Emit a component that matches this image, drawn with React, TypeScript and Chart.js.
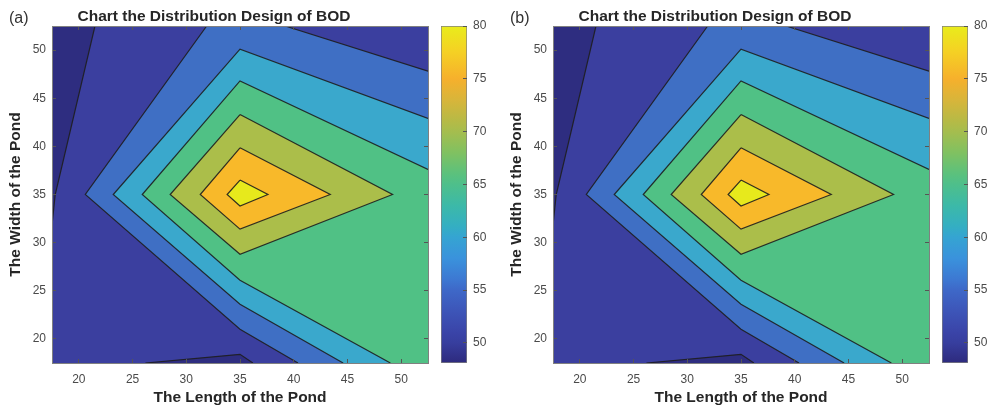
import React, { useEffect, useRef } from 'react';
import { Chart, registerables } from 'chart.js';

Chart.register(...registerables);

const FONT = '"Liberation Sans", Arial, Helvetica, sans-serif';

// ---- text ----
const TITLE = 'Chart the Distribution Design of BOD';
const X_LABEL = 'The Length of the Pond';
const Y_LABEL = 'The Width of the Pond';
const PANEL_LABELS = ['(a)', '(b)'];

// ---- axes ----
const X_LIMITS = [17.5, 52.5];
const Y_LIMITS = [17.5, 52.5];
const X_TICKS = [20, 25, 30, 35, 40, 45, 50];
const Y_TICKS = [20, 25, 30, 35, 40, 45, 50];
const CB_LIMITS = [48.1, 80];
const CB_TICKS = [50, 55, 60, 65, 70, 75, 80];

// ---- contour lines (x = length, y = width) ----
// lowest level, top-left corner
const lineA_x = [21.5, 17.8, 17.5];
const lineA_y = [52.5, 35, 31.8];
// lowest level, small pocket at the bottom
const lineA2_x = [26.2, 35, 36.2];
const lineA2_y = [17.5, 18.4, 17.5];
// second level, two branches
const lineB1_x = [31.9, 20.6, 35, 40.4];
const lineB1_y = [52.5, 35, 21.0, 17.5];
const lineB2_x = [39.2, 52.5];
const lineB2_y = [52.5, 47.8];
// third level
const lineC_x = [52.5, 35, 23.2, 35, 44.6];
const lineC_y = [42.9, 50.1, 35, 23.6, 17.5];
// fourth level
const lineD_x = [52.5, 35, 25.9, 35, 49.0];
const lineD_y = [37.6, 46.8, 35, 26.1, 17.5];
// closed inner levels
const lineE_x = [35, 49.2, 35, 28.5];
const lineE_y = [43.3, 35, 28.8, 35];
const lineF_x = [35, 43.4, 35, 31.3];
const lineF_y = [39.85, 35, 31.4, 35];
const lineG_x = [35, 37.6, 35, 33.8];
const lineG_y = [36.5, 35, 33.8, 35];

// band colours, lowest to highest
const BAND_COLORS = ['#2e2d80', '#3b3f9f', '#3f6fc4', '#3aa8cc', '#50c185', '#abbe4a', '#f8b92a', '#e7e91c'];

// colour bar stops
const CMAP_VALUES = [48.1, 50, 51, 53, 55, 56, 58, 60, 61, 63, 65, 66, 68, 70, 71, 73, 75, 77.5, 80];
const CMAP_COLORS = ['#2d2a7d', '#373e9e', '#3a44a8', '#3d55b8', '#3e68c8', '#3d78d2', '#3a92dc', '#35a4d2', '#34aec3', '#3cb9a8', '#4ebf8b', '#5bc17d', '#80c161', '#a5bd4e', '#b6ba46', '#d8b53a', '#f6b02c', '#f5d024', '#e9ec1b'];

const LINE_COLOR = 'rgba(30,30,30,0.9)';
const AXIS_COLOR = '#808080';
const TICK_MARK_COLOR = '#555555';
const TICK_COLOR = '#4a4a4a';
const LABEL_COLOR = '#262626';

const pts = (xs: number[], ys: number[]) => xs.map((x, i) => ({ x, y: ys[i] }));

function buildMain(canvas: HTMLCanvasElement) {
  const [X0, X1] = X_LIMITS;
  const [Y0, Y1] = Y_LIMITS;
  const fills = [
    { data: pts([X0, X1, X1, X0], [Y0, Y0, Y1, Y1]), color: BAND_COLORS[1] },
    { data: [...pts(lineA_x, lineA_y), { x: X0, y: Y1 }], color: BAND_COLORS[0] },
    { data: pts(lineA2_x, lineA2_y), color: BAND_COLORS[0] },
    { data: [...pts(lineB1_x, lineB1_y), { x: X1, y: Y0 }, ...pts(lineB2_x, lineB2_y).reverse()], color: BAND_COLORS[2] },
    { data: [...pts(lineC_x, lineC_y), { x: X1, y: Y0 }], color: BAND_COLORS[3] },
    { data: [...pts(lineD_x, lineD_y), { x: X1, y: Y0 }], color: BAND_COLORS[4] },
    { data: pts(lineE_x, lineE_y), color: BAND_COLORS[5] },
    { data: pts(lineF_x, lineF_y), color: BAND_COLORS[6] },
    { data: pts(lineG_x, lineG_y), color: BAND_COLORS[7] },
  ];
  const closed = (xs: number[], ys: number[]) => [...pts(xs, ys), { x: xs[0], y: ys[0] }];
  const lines = [
    pts(lineA_x, lineA_y),
    pts(lineA2_x, lineA2_y),
    pts(lineB1_x, lineB1_y),
    pts(lineB2_x, lineB2_y),
    pts(lineC_x, lineC_y),
    pts(lineD_x, lineD_y),
    closed(lineE_x, lineE_y),
    closed(lineF_x, lineF_y),
    closed(lineG_x, lineG_y),
  ];
  const layered: any[] = [
    ...fills.map((f) => ({
      data: f.data,
      showLine: true,
      fill: 'shape',
      backgroundColor: f.color,
      borderColor: 'transparent',
      borderWidth: 0,
      pointRadius: 0,
    })),
    ...lines.map((l) => ({
      data: l,
      showLine: true,
      fill: false,
      borderColor: LINE_COLOR,
      borderWidth: 1.2,
      pointRadius: 0,
    })),
  ];
  // Chart.js paints dataset 0 last, so put the top layer first
  const datasets = layered.slice().reverse();

  const tickFont = { family: FONT, size: 12 };
  const labelFont = { family: FONT, size: 15.5, weight: 'bold' as const };
  const gridOpts = { drawOnChartArea: false, drawTicks: true, tickLength: -4, color: TICK_MARK_COLOR, z: 1 };
  const borderOpts = { display: true, color: AXIS_COLOR, width: 1, z: 1 };

  return new Chart(canvas, {
    type: 'scatter',
    data: { datasets },
    options: {
      animation: false,
      responsive: false,
      events: [],
      layout: { padding: { left: 0, right: 52, top: 0, bottom: 0 } },
      elements: { point: { radius: 0 }, line: { tension: 0 } },
      plugins: {
        legend: { display: false },
        tooltip: { enabled: false },
        title: {
          display: true,
          text: TITLE,
          font: labelFont,
          color: LABEL_COLOR,
          padding: { top: 7, bottom: 0.4 },
        },
      },
      scales: {
        x: {
          type: 'linear',
          position: 'bottom',
          min: X_LIMITS[0],
          max: X_LIMITS[1],
          afterBuildTicks: (s: any) => { s.ticks = X_TICKS.map((v) => ({ value: v })); },
          afterFit: (s: any) => { s.height = 47; },
          ticks: { font: tickFont, color: TICK_COLOR, padding: 13, maxRotation: 0 },
          grid: gridOpts,
          border: borderOpts,
          title: { display: true, text: X_LABEL, font: labelFont, color: LABEL_COLOR, padding: { top: 0, bottom: 2.7 } },
        },
        y: {
          type: 'linear',
          position: 'left',
          min: Y_LIMITS[0],
          max: Y_LIMITS[1],
          afterBuildTicks: (s: any) => { s.ticks = Y_TICKS.map((v) => ({ value: v })); },
          afterFit: (s: any) => { s.width = 52; },
          ticks: { font: tickFont, color: TICK_COLOR, padding: 10 },
          grid: gridOpts,
          border: borderOpts,
          title: { display: true, text: Y_LABEL, font: labelFont, color: LABEL_COLOR, padding: { top: 6.7, bottom: 0 } },
        },
        x2: {
          type: 'linear',
          position: 'top',
          min: X_LIMITS[0],
          max: X_LIMITS[1],
          afterBuildTicks: (s: any) => { s.ticks = X_TICKS.map((v) => ({ value: v })); },
          afterFit: (s: any) => { s.height = 0; },
          ticks: { display: false },
          grid: gridOpts,
          border: borderOpts,
        },
        y2: {
          type: 'linear',
          position: 'right',
          min: Y_LIMITS[0],
          max: Y_LIMITS[1],
          afterBuildTicks: (s: any) => { s.ticks = Y_TICKS.map((v) => ({ value: v })); },
          afterFit: (s: any) => { s.width = 0; },
          ticks: { display: false },
          grid: gridOpts,
          border: borderOpts,
        },
      },
    } as any,
  });
}

function buildColorbar(canvas: HTMLCanvasElement) {
  const [C0, C1] = CB_LIMITS;
  return new Chart(canvas, {
    type: 'bar',
    data: {
      labels: [''],
      datasets: [
        {
          data: [[C0, C1]] as any,
          backgroundColor: (c: any) => {
            const chart = c.chart;
            const ys = chart.scales && chart.scales.y;
            if (!chart.chartArea || !ys) return CMAP_COLORS[0];
            const g = chart.ctx.createLinearGradient(0, ys.getPixelForValue(C0), 0, ys.getPixelForValue(C1));
            CMAP_VALUES.forEach((v, i) => g.addColorStop((v - C0) / (C1 - C0), CMAP_COLORS[i]));
            return g;
          },
          borderColor: AXIS_COLOR,
          borderWidth: 1,
          borderSkipped: false,
          barPercentage: 1,
          categoryPercentage: 1,
        },
      ],
    },
    options: {
      animation: false,
      responsive: false,
      events: [],
      layout: { padding: { left: 5, right: 0, top: 26, bottom: 47 } },
      plugins: { legend: { display: false }, tooltip: { enabled: false } },
      scales: {
        x: { display: false },
        y: {
          type: 'linear',
          position: 'right',
          min: C0,
          max: C1,
          afterBuildTicks: (s: any) => { s.ticks = CB_TICKS.map((v) => ({ value: v })); },
          afterFit: (s: any) => { s.width = 21; },
          ticks: { font: { family: FONT, size: 12 }, color: TICK_COLOR, padding: 10 },
          grid: { drawOnChartArea: false, drawTicks: true, tickLength: -4, color: TICK_MARK_COLOR, z: 1 },
          border: { display: false },
        },
      },
    } as any,
  });
}

function Panel({ left, label }: { left: number; label: string }) {
  const mainRef = useRef<HTMLCanvasElement>(null);
  const cbRef = useRef<HTMLCanvasElement>(null);
  useEffect(() => {
    const main = buildMain(mainRef.current!);
    const cb = buildColorbar(cbRef.current!);
    return () => {
      main.destroy();
      cb.destroy();
    };
  }, []);
  return (
    <div style={{ position: 'absolute', left, top: 0, width: 488, height: 410 }}>
      <canvas ref={mainRef} width={480} height={410} style={{ position: 'absolute', left: 0, top: 0, width: 480, height: 410 }} />
      <canvas ref={cbRef} width={52} height={410} style={{ position: 'absolute', left: 436, top: 0, width: 52, height: 410 }} />
      <div style={{ position: 'absolute', left: 9, top: 10, fontFamily: FONT, fontSize: 16, lineHeight: '16px', color: '#333' }}>{label}</div>
    </div>
  );
}

export default function App() {
  return (
    <div style={{ position: 'absolute', left: 0, top: 0, width: 989, height: 410, overflow: 'hidden', background: '#ffffff' }}>
      <Panel left={0} label={PANEL_LABELS[0]} />
      <Panel left={501} label={PANEL_LABELS[1]} />
    </div>
  );
}
